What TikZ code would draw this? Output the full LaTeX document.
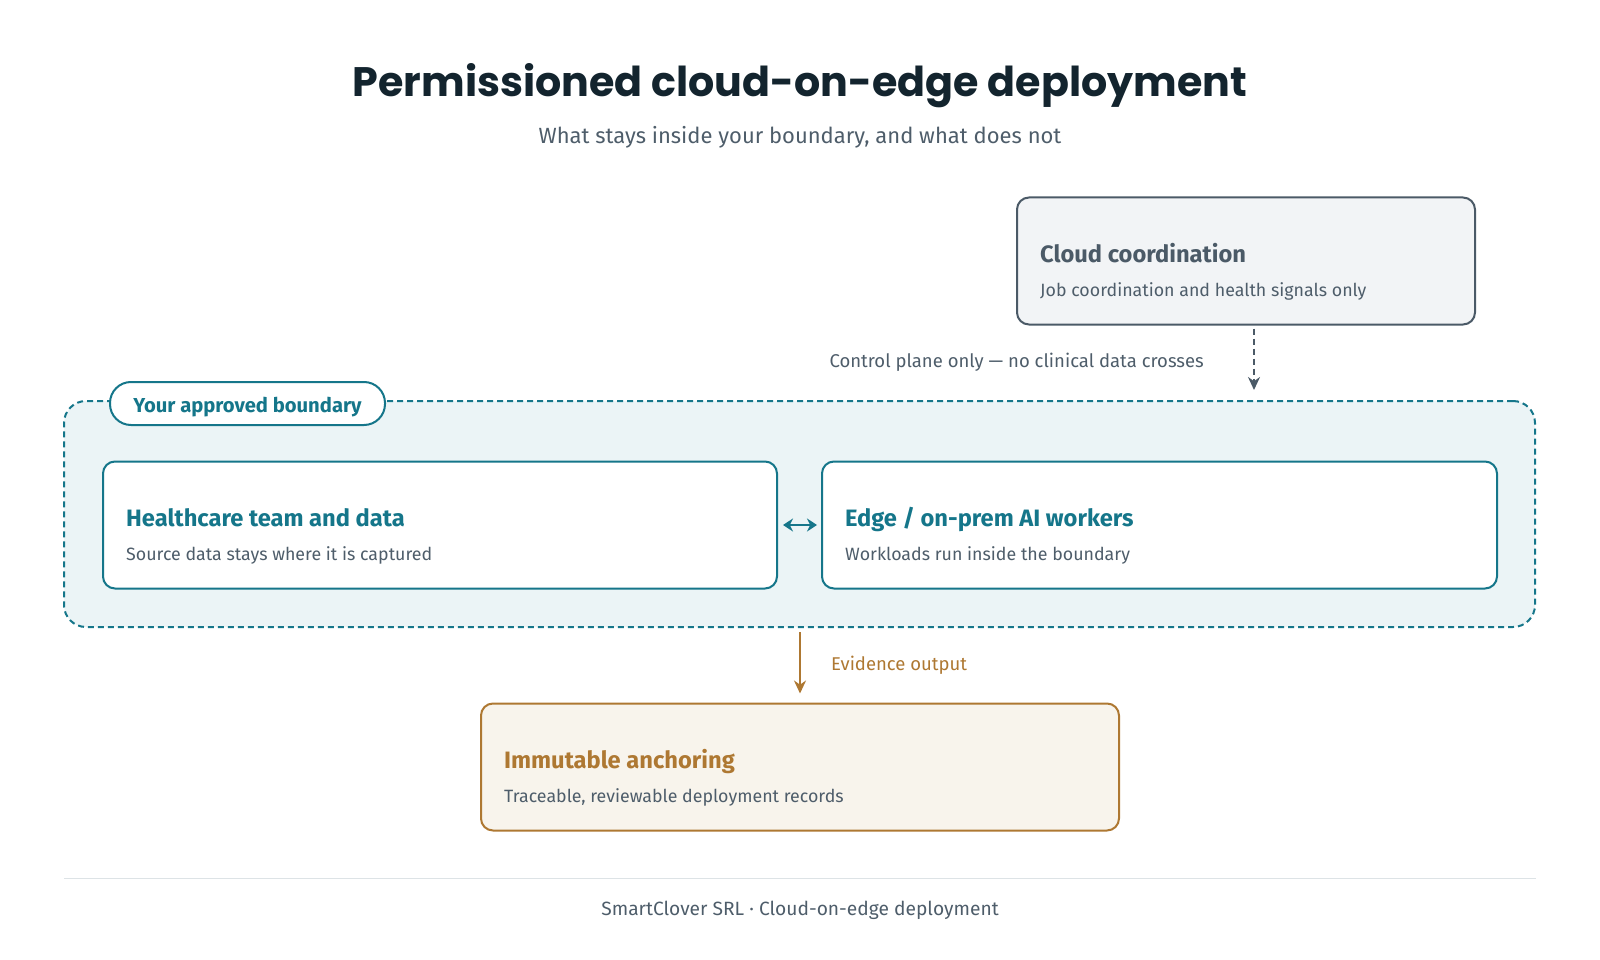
\documentclass[tikz,border=0pt]{standalone}
\usepackage{fontspec}
\setmainfont{Fira Sans}
\newfontfamily\titlefont{Poppins}
\usetikzlibrary{arrows.meta,positioning}
\definecolor{ink}{HTML}{13242E}
\definecolor{muted}{HTML}{4E5D6A}
\definecolor{slate}{HTML}{4B5A67}
\definecolor{cloudbg}{HTML}{F2F4F6}
\definecolor{teal}{HTML}{15768A}
\definecolor{tealbg}{HTML}{EBF4F6}
\definecolor{amber}{HTML}{AE7832}
\definecolor{amberbg}{HTML}{F8F4EC}
\definecolor{rule}{HTML}{DDE3E6}

\begin{document}
\begin{tikzpicture}[x=1pt,y=-1pt,
  card/.style={rounded corners=12pt,line width=2pt,inner sep=0pt,minimum height=127pt},
  cardhead/.style={anchor=base west,inner sep=0pt,font=\fontsize{23.7}{28}\selectfont\bfseries},
  cardtext/.style={anchor=base west,inner sep=0pt,text=muted,font=\fontsize{17.8}{21}\selectfont},
  note/.style={inner sep=0pt,font=\fontsize{18.5}{22}\selectfont}]
  \useasboundingbox (0,0) rectangle (1600,960);
  \node[text=ink,font=\titlefont\fontsize{41.2}{47}\selectfont\bfseries] (title) at (800,86) {Permissioned cloud-on-edge deployment};
  \node[text=muted,font=\fontsize{22}{26}\selectfont] (subtitle) at (800,137) {What stays inside your boundary, and what does not};

  \node[card,draw=slate,fill=cloudbg,minimum width=458pt] (cloud) at (1246,261) {};
  \node[cardhead,text=slate] (cloudhead) at ([xshift=24pt,yshift=-1pt]cloud.west) {Cloud coordination};
  \node[cardtext] (cloudtext) at ([xshift=24pt,yshift=-35pt]cloud.west) {Job coordination and health signals only};

  \node[draw=teal,fill=tealbg,dashed,dash pattern=on 6pt off 4pt,line width=2pt,rounded corners=22pt,minimum width=1471pt,minimum height=226pt] (boundary) at (799.5,514) {};
  \node[draw=teal,fill=white,line width=2pt,rounded corners=21pt,minimum width=275pt,minimum height=43pt,text depth=1pt,text height=19pt,text=teal,font=\fontsize{20.2}{24}\selectfont\bfseries] (pill) at (247.5,403.5) {Your approved boundary};

  \node[card,draw=teal,fill=white,minimum width=674pt] (care) at (440,525) {};
  \node[cardhead,text=teal] (carehead) at ([xshift=24pt,yshift=-1pt]care.west) {Healthcare team and data};
  \node[cardtext] (caretext) at ([xshift=24pt,yshift=-35pt]care.west) {Source data stays where it is captured};

  \node[card,draw=teal,fill=white,minimum width=675pt] (edge) at (1159.5,525) {};
  \node[cardhead,text=teal] (edgehead) at ([xshift=24pt,yshift=-1pt]edge.west) {Edge / on-prem AI workers};
  \node[cardtext] (edgetext) at ([xshift=24pt,yshift=-35pt]edge.west) {Workloads run inside the boundary};

  \node[card,draw=amber,fill=amberbg,minimum width=638pt] (anchor) at (800,767) {};
  \node[cardhead,text=amber] (anchorhead) at ([xshift=24pt,yshift=-1pt]anchor.west) {Immutable anchoring};
  \node[cardtext] (anchortext) at ([xshift=24pt,yshift=-35pt]anchor.west) {Traceable, reviewable deployment records};

  \coordinate (ctl) at (1254,0);
  \draw[slate,line width=2.4pt,dash pattern=on 6pt off 4pt,-{Stealth[length=13pt,width=12pt]},shorten <=3pt,shorten >=10pt] (cloud.south -| ctl) -- node[note,text=muted,midway,left=49pt] (ctllabel) {Control plane only — no clinical data crosses} (boundary.north -| ctl);
  \draw[teal,line width=2.8pt,{Stealth[length=10pt,width=13pt]}-{Stealth[length=10pt,width=13pt]},shorten <=5pt,shorten >=4pt] (care.east) -- (edge.west);
  \draw[amber,line width=2.2pt,-{Stealth[length=13pt,width=12pt]},shorten <=4pt,shorten >=9pt] (boundary.south -| anchor.north) -- node[note,text=amber,midway,right=30pt] (evlabel) {Evidence output} (anchor.north);

  \draw[rule,line width=1pt] (64,878) -- (1536,878);
  \node[note,text=muted,font=\fontsize{19.2}{23}\selectfont] (footer) at (800,910) {SmartClover SRL · Cloud-on-edge deployment};
\end{tikzpicture}
\end{document}
